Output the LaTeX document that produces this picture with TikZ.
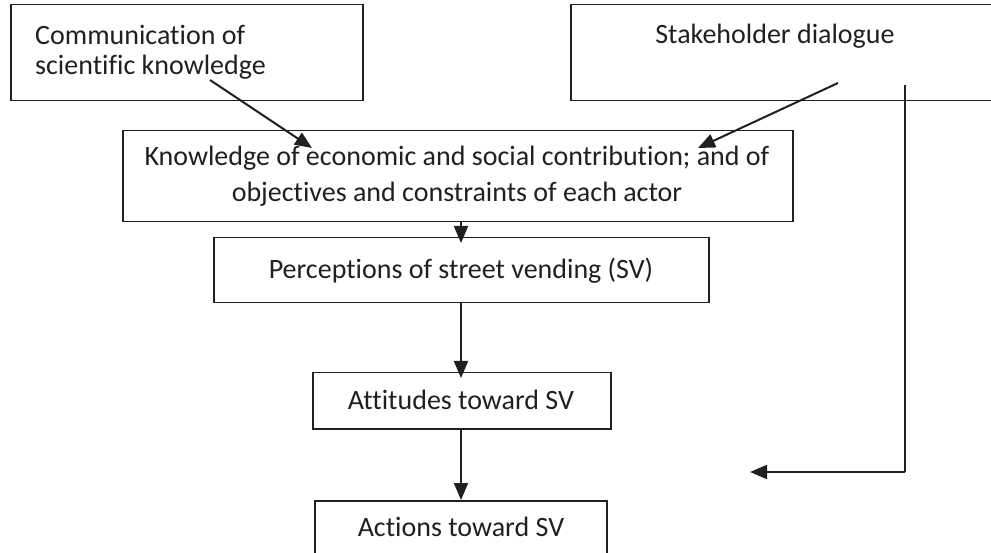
\documentclass[tikz,border=0pt]{standalone}
\usepackage{fontspec}
\setmainfont[Ligatures=NoCommon]{Carlito}
\usetikzlibrary{arrows.meta,calc}
\definecolor{ink}{HTML}{231F20}
\tikzset{
  box/.style={draw=ink, line width=1.5pt, inner sep=0pt, anchor=north west},
  txt/.style={text=ink, inner sep=0pt, font=\fontsize{28}{34}\selectfont},
  conn/.style={draw=ink, line width=2pt, -{Triangle[length=17pt,width=14pt]}},
  plain/.style={draw=ink, line width=2pt}
}
\begin{document}
\begin{tikzpicture}[x=1pt,y=-1pt]
\useasboundingbox (0,0) rectangle (991,553);
\clip (0,0) rectangle (991,553);
% boxes
\node[box, minimum width=352pt, minimum height=96pt] (b1) at (10,4) {};
\node[box, minimum width=430pt, minimum height=96pt] (b2) at (570,4) {};
\node[box, minimum width=670pt, minimum height=91pt] (b3) at (122,130) {};
\node[box, minimum width=495pt, minimum height=65pt] (b4) at (213,237) {};
\node[box, minimum width=298pt, minimum height=56pt] (b5) at (312,372) {};
\node[box, minimum width=292pt, minimum height=70pt] (b6) at (314,500) {};
% texts
\node[txt, anchor=base west, align=left] (t1) at (35,45) {Communication of};
\node[txt, anchor=base west, align=left] (t1b) at (35,75) {scientific knowledge};
\node[txt, anchor=base] (t2) at (775,44) {Stakeholder dialogue};
\node[txt, anchor=base] (t3a) at (457,166) {Knowledge of economic and social contribution; and of};
\node[txt, anchor=base] (t3b) at (457,202) {objectives and constraints of each actor};
\node[txt, anchor=base] (t4) at (461,279) {Perceptions of street vending (SV)};
\node[txt, anchor=base] (t5) at (461,409) {Attitudes toward SV};
\node[txt, anchor=base] (t6) at (461,536) {Actions toward SV};
% connector end points
\coordinate (a1s) at (210,80);
\coordinate (a1e) at (312,148);
\coordinate (a2s) at (838,83);
\coordinate (a2e) at (698,148);
\coordinate (vtop) at (905,85);
\coordinate (vbot) at (905,472);
\coordinate (htip) at (750,472);
% connectors
\draw[conn] (a1s) -- (a1e);
\draw[conn] (a2s) -- (a2e);
\draw[conn] (b3.south -| 461,0) -- ($(b4.north -| 461,0)+(0,6)$);
\draw[conn] (b4.south -| 461,0) -- ($(b5.north -| 461,0)+(0,6)$);
\draw[conn] (b5.south -| 461,0) -- (b6.north -| 461,0);
\draw[plain] (vtop) -- (vbot);
\draw[conn] (vbot) -- (htip);
\end{tikzpicture}
\end{document}
